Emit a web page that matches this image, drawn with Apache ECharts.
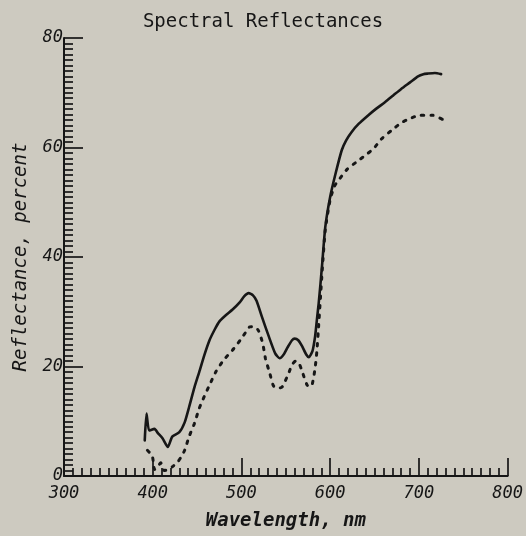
<!DOCTYPE html>
<html>
<head>
<meta charset="utf-8">
<script src="https://cdn.jsdelivr.net/npm/echarts@6/dist/echarts.min.js"></script>
<style>
  html, body { margin: 0; padding: 0; background: #cdcac0; }
  #chart { width: 526px; height: 536px; }
</style>
</head>
<body>
<div id="chart"></div>
<script>
// Wavelengths (nm) and reflectance (%) for the two measured samples
const solidWavelengths = [391, 393, 396, 402, 406, 411, 417, 422, 430, 436, 441, 447, 453, 458, 464, 470, 475, 482, 490, 498, 503, 508, 513, 517, 523, 531, 538, 543, 548, 552, 557, 560, 564, 568, 573, 576, 580, 583, 585, 587, 589, 591, 594.5, 600, 606, 613, 618, 624, 632, 643, 652, 662, 671, 680, 690, 699, 705, 710, 718, 725];
const solidReflectance = [6.5, 11.4, 8.3, 8.6, 7.8, 6.9, 5.3, 7.2, 8.0, 9.8, 12.6, 16.2, 19.3, 22.0, 24.8, 26.8, 28.2, 29.3, 30.4, 31.7, 32.8, 33.4, 33.0, 32.0, 29.1, 25.4, 22.4, 21.5, 22.3, 23.5, 24.8, 25.1, 24.8, 23.8, 22.2, 21.7, 22.8, 25.5, 28.5, 31.5, 35.0, 38.8, 45.5, 51.0, 55.2, 59.5, 61.3, 62.8, 64.3, 65.9, 67.1, 68.3, 69.5, 70.7, 71.9, 73.0, 73.4, 73.5, 73.6, 73.4];

const dottedWavelengths = [394, 398, 400, 402, 405, 409, 413, 418, 423, 428, 432, 436, 441, 447, 452.5, 458, 464, 471, 480, 490, 499, 505, 509, 514, 519, 524, 527, 532, 536, 541, 546, 553, 557, 561, 565, 568, 574, 578, 580, 583, 585, 587, 589, 591, 594.5, 600, 605, 609.4, 619, 630, 639, 649, 658, 669, 680, 690, 701, 715, 727];
const dottedReflectance = [4.7, 4.0, 3.3, 1.2, 1.5, 2.4, 1.0, 1.2, 1.8, 2.5, 3.5, 4.7, 7.2, 9.6, 12.4, 14.5, 16.6, 19.0, 21.2, 23.0, 24.9, 26.3, 27.2, 27.3, 26.6, 24.2, 21.5, 18.7, 16.5, 16.0, 16.3, 18.7, 20.3, 21.0, 20.5, 19.3, 16.6, 16.3, 16.9, 19.7, 22.8, 27.5, 32.5, 37.5, 45.0, 50.5, 53.0, 54.0, 56.0, 57.4, 58.5, 59.8, 61.6, 63.1, 64.5, 65.3, 65.9, 65.9, 65.1];

// Tick labels on each axis
const xTickLabels = ['300', '400', '500', '600', '700', '800'];
const yTickLabels = ['0', '20', '40', '60', '80'];

const ink = '#161616';
const monoFont = '"DejaVu Sans Mono", "Liberation Mono", monospace';

function pairs(xs, ys) {
  return xs.map((x, i) => [x, ys[i]]);
}

const chart = echarts.init(document.getElementById('chart'), null, { renderer: 'canvas' });

chart.setOption({
  backgroundColor: '#cdcac0',
  animation: false,
  title: {
    text: 'Spectral Reflectances',
    left: 'center',
    top: 8,
    textStyle: { fontFamily: monoFont, fontSize: 19, fontWeight: 'normal', color: ink }
  },
  grid: { left: 64, right: 16, top: 38, bottom: 60, containLabel: false },
  xAxis: {
    type: 'value',
    min: 300,
    max: 800,
    interval: 100,
    name: 'Wavelength, nm',
    nameLocation: 'middle',
    nameGap: 36,
    nameTextStyle: { fontFamily: monoFont, fontSize: 19, fontStyle: 'italic', fontWeight: 'bold', color: ink },
    axisLine: { show: true, lineStyle: { color: ink, width: 2 } },
    axisTick: { show: true, inside: true, length: 18, lineStyle: { color: ink, width: 1.7 } },
    minorTick: { show: true, splitNumber: 10, length: 8, lineStyle: { color: ink, width: 1.7 } },
    axisLabel: {
      margin: 9,
      fontFamily: monoFont,
      fontSize: 17,
      fontStyle: 'italic',
      color: ink,
      formatter: (v) => xTickLabels[Math.round((v - 300) / 100)]
    },
    splitLine: { show: false },
    minorSplitLine: { show: false }
  },
  yAxis: {
    type: 'value',
    min: 0,
    max: 80,
    interval: 20,
    name: 'Reflectance, percent',
    nameLocation: 'middle',
    nameRotate: 90,
    nameGap: 33,
    nameTextStyle: { fontFamily: monoFont, fontSize: 19, fontStyle: 'italic', color: ink },
    axisLine: { show: true, lineStyle: { color: ink, width: 2 } },
    axisTick: { show: true, inside: true, length: 19, lineStyle: { color: ink, width: 1.7 } },
    minorTick: { show: true, splitNumber: 20, length: 9, lineStyle: { color: ink, width: 1.7 } },
    axisLabel: {
      margin: 1,
      fontFamily: monoFont,
      fontSize: 17,
      fontStyle: 'italic',
      color: ink,
      padding: [0, 0, 5, 0],
      formatter: (v) => yTickLabels[Math.round(v / 20)]
    },
    splitLine: { show: false },
    minorSplitLine: { show: false }
  },
  series: [
    {
      name: 'Solid',
      type: 'line',
      data: pairs(solidWavelengths, solidReflectance),
      showSymbol: false,
      smooth: 0.2,
      lineStyle: { color: ink, width: 2.6, cap: 'round', join: 'round' }
    },
    {
      name: 'Dotted',
      type: 'line',
      data: pairs(dottedWavelengths, dottedReflectance),
      showSymbol: false,
      smooth: 0.2,
      lineStyle: { color: ink, width: 3, type: [2.5, 7], cap: 'round' }
    }
  ]
});
</script>
</body>
</html>
